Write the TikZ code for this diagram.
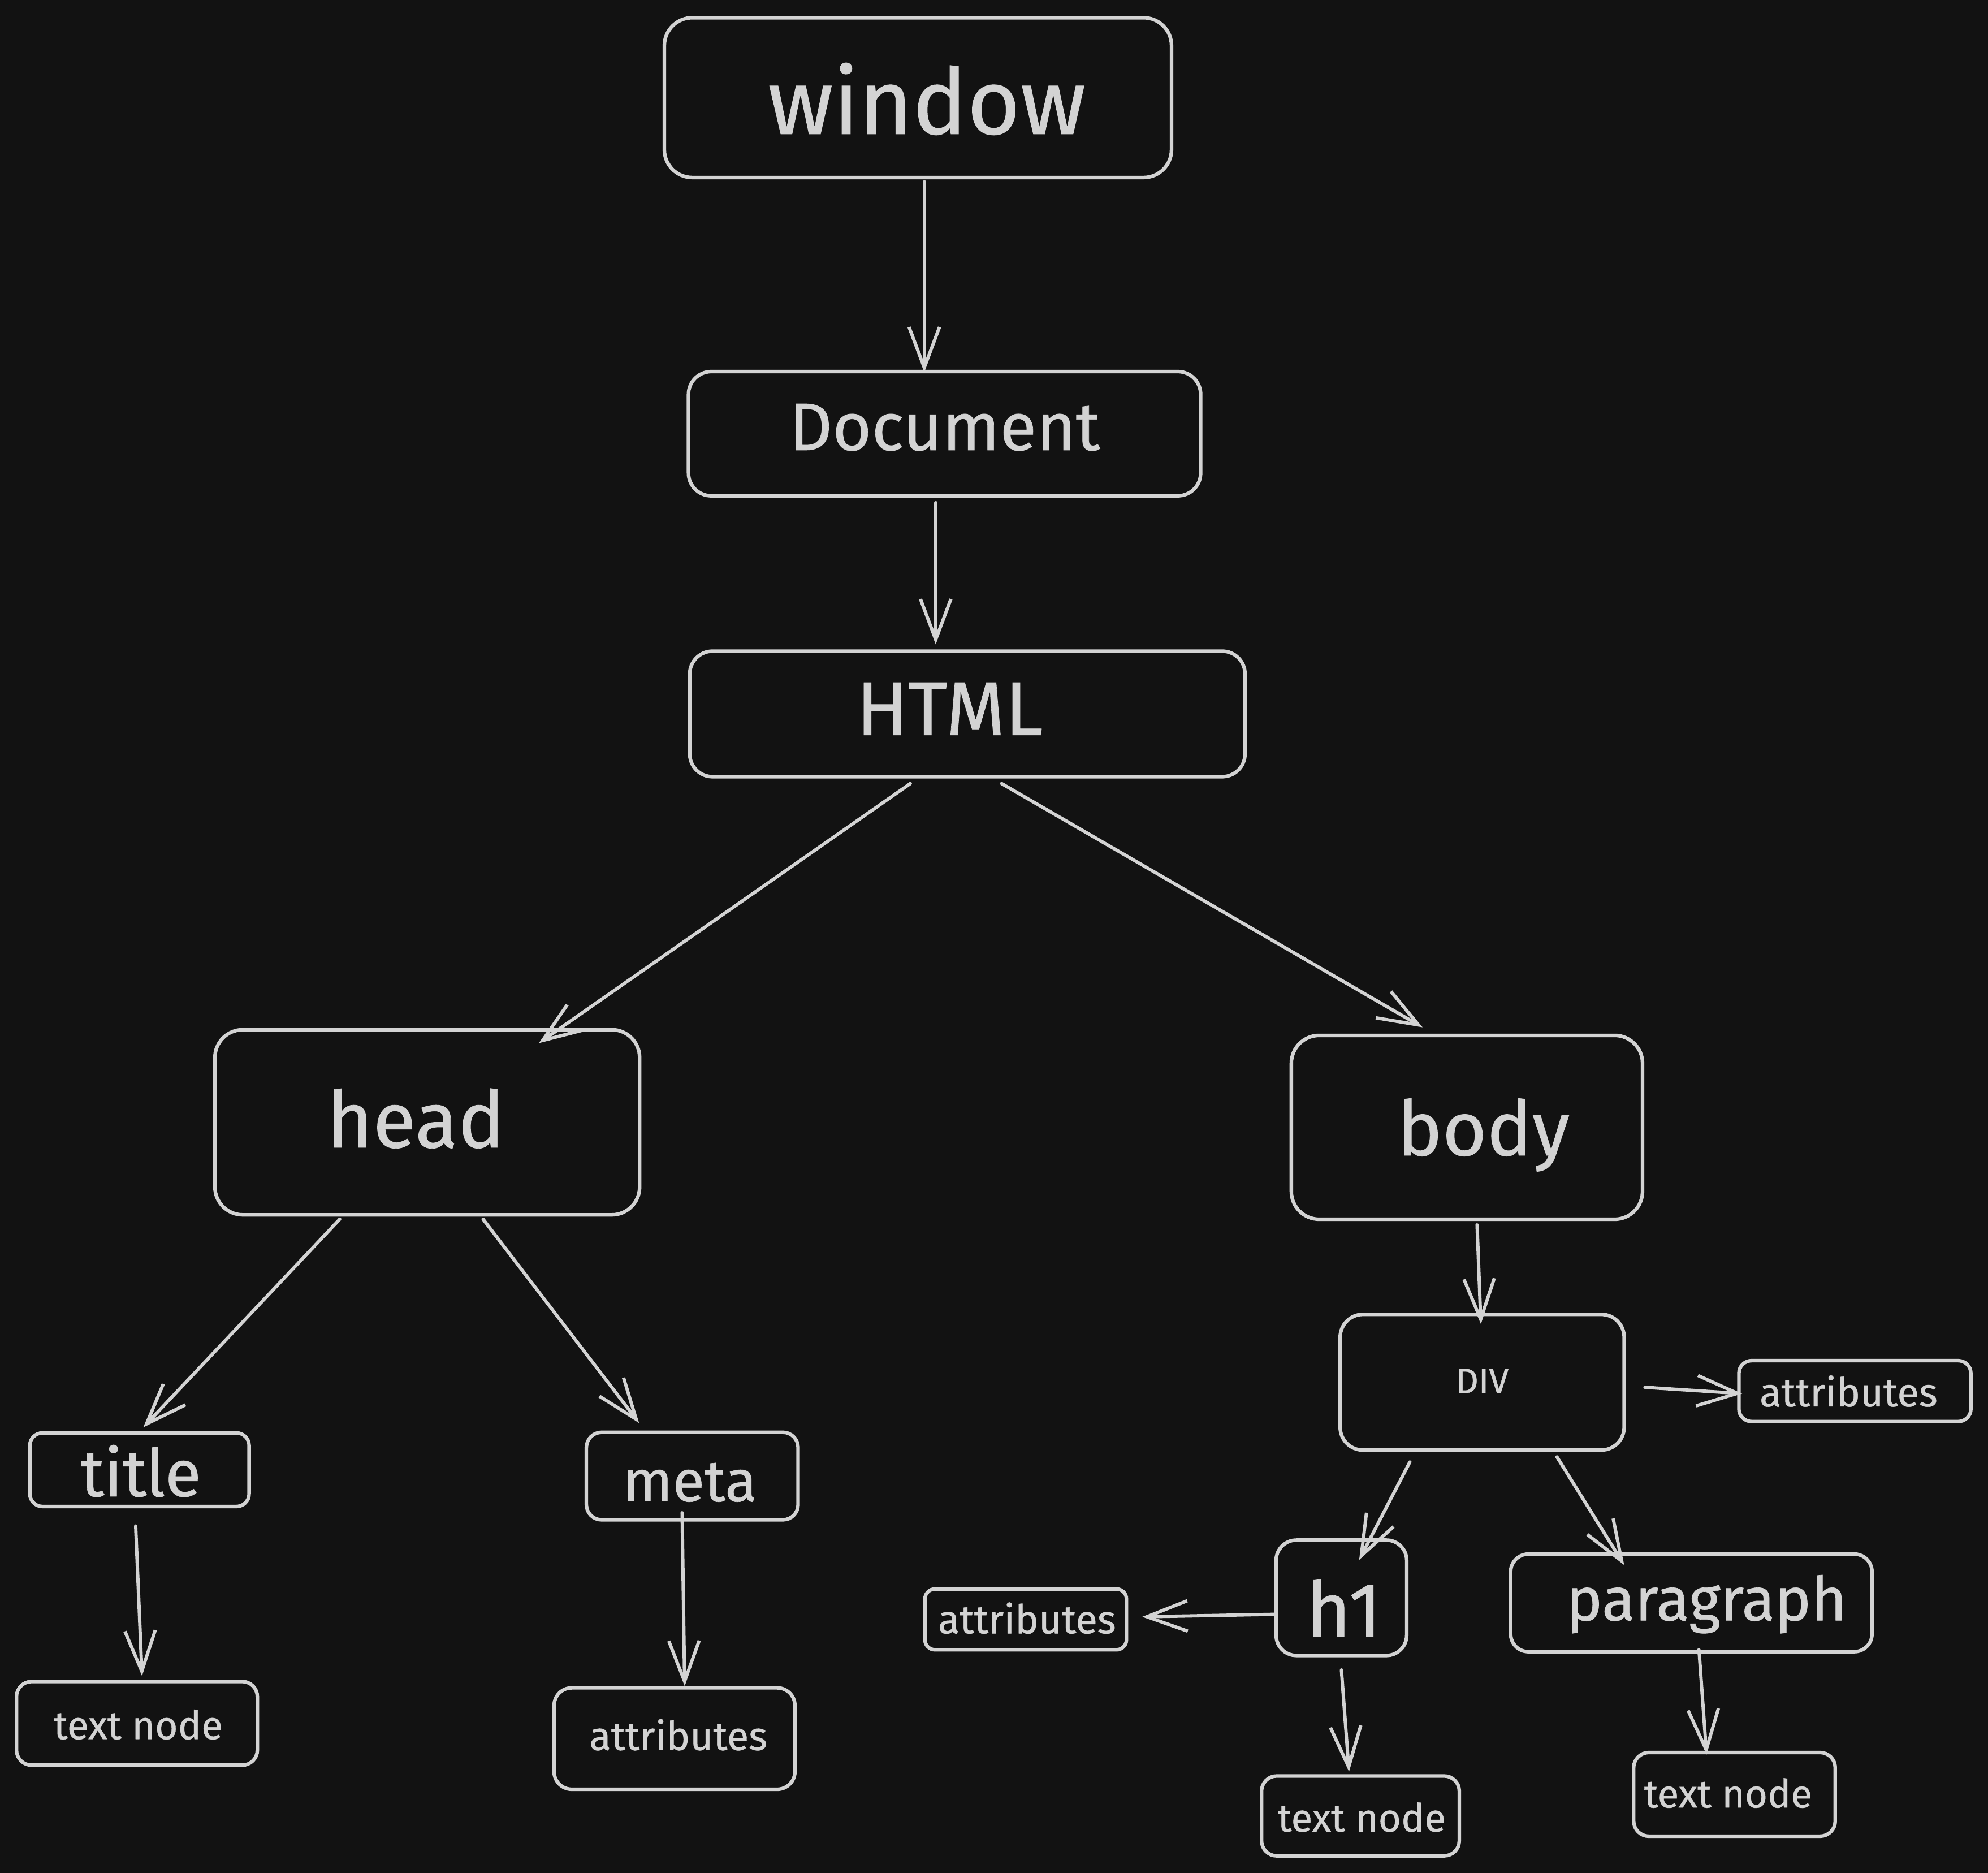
\documentclass[tikz,border=0pt]{standalone}
\usepackage{fontspec}
\setmainfont{Fira Sans}[FakeBold=0.6]
\usetikzlibrary{arrows.meta,calc}
\definecolor{bg}{HTML}{121212}
\definecolor{ink}{HTML}{D3D3D3}
\begin{document}
\begin{tikzpicture}[x=0.5pt,y=-0.5pt,
 box/.style={draw=ink, line width=1.4pt, fill=bg, rounded corners=#1, inner sep=0pt},
 box/.default=7pt,
 txt/.style={text=ink, inner sep=0pt},
 arr/.style={draw=ink, line width=1.3pt, line cap=round, -{Straight Barb[length=16pt,width=12pt]}},
]
\fill[bg] (0,0) rectangle (1568,1477);
\useasboundingbox (0,0) rectangle (1568,1477);

% boxes
\node[box=11pt, minimum width=200pt, minimum height=63pt] (window) at (724,77) {};
\node[box=9pt, minimum width=202pt, minimum height=49pt] (Document) at (745,342) {};
\node[box=9pt, minimum width=219pt, minimum height=49.5pt] (HTML) at (763,563) {};
\node[box=11pt, minimum width=167.5pt, minimum height=73pt] (head) at (337,885) {};
\node[box=11pt, minimum width=138.5pt, minimum height=72.5pt] (body) at (1157,889) {};
\node[box=9pt, minimum width=112pt, minimum height=53.5pt] (DIV) at (1169,1090) {};
\node[box=5pt, minimum width=91.5pt, minimum height=24pt] (attrR) at (1463,1097) {};
\node[box=5pt, minimum width=86.5pt, minimum height=29pt] (title) at (110,1159) {};
\node[box=6pt, minimum width=83.5pt, minimum height=34.5pt] (meta) at (546,1164) {};
\node[box=6pt, minimum width=95pt, minimum height=33pt] (textL) at (108,1359) {};
\node[box=7pt, minimum width=95pt, minimum height=40pt] (attrM) at (532,1371) {};
\node[box=8pt, minimum width=51.5pt, minimum height=45.5pt] (h1) at (1058,1260) {};
\node[box=4pt, minimum width=79.5pt, minimum height=24pt] (attrH) at (809,1277) {};
\node[box=7pt, minimum width=142.5pt, minimum height=38.5pt] (para) at (1334,1264) {};
\node[box=6pt, minimum width=78pt, minimum height=31.5pt] (textH) at (1073,1432) {};
\node[box=6pt, minimum width=79.5pt, minimum height=33pt] (textP) at (1368,1415) {};

% texts
\node[txt, font=\fontsize{36}{40}\selectfont] (window-t) at (731,78) {window};
\node[txt, font=\fontsize{26.5}{30}\selectfont] (Document-t) at (745,337) {Document};
\node[txt, font=\fontsize{30}{34}\selectfont] (HTML-t) at (749,559) {HTML};
\node[txt, font=\fontsize{31}{35}\selectfont] (head-t) at (328,882) {head};
\node[txt, font=\fontsize{30}{34}\selectfont] (body-t) at (1170,895) {body};
\node[txt, font=\fontsize{14}{16}\selectfont] (DIV-t) at (1169,1089) {DIV};
\node[txt, font=\fontsize{15.7}{18}\selectfont] (attrR-t) at (1458,1097) {attributes};
\node[txt, font=\fontsize{26}{30}\selectfont] (title-t) at (111,1160) {title};
\node[txt, font=\fontsize{23}{26}\selectfont] (meta-t) at (544,1169) {meta};
\node[txt, font=\fontsize{15.5}{18}\selectfont] (textL-t) at (109,1360) {text node};
\node[txt, font=\fontsize{15.7}{18}\selectfont] (attrM-t) at (535,1368) {attributes};
\node[txt, font=\fontsize{30}{34}\selectfont] (h1-t) at (1060,1268) {h1};
\node[txt, font=\fontsize{15.7}{18}\selectfont] (attrH-t) at (810,1276) {attributes};
\node[txt, font=\fontsize{24}{28}\selectfont] (para-t) at (1346,1265) {paragraph};
\node[txt, font=\fontsize{15.4}{18}\selectfont] (textH-t) at (1074,1433) {text node};
\node[txt, font=\fontsize{15.4}{18}\selectfont] (textP-t) at (1363,1414) {text node};

% connectors
\draw[arr] ($(window.south)+(5,2)$) -- ($(Document.north)+(-16,2)$);
\draw[arr] ($(Document.south)+(-7,4)$) -- ($(HTML.north)+(-25,-4)$);
\draw[arr] ($(HTML.south)+(-45,4)$) -- ($(head.north)+(88,12)$);
\draw[arr] ($(HTML.south)+(27,4)$) -- ($(body.north)+(-35,-5)$);
\draw[arr] ($(head.south)+(-69,2)$) -- ($(title.north)+(3,-3)$);
\draw[arr] ($(head.south)+(44,2)$) -- ($(meta.north)+(-42,-6)$);
\draw[arr] ($(title.south)+(-3,14)$) -- ($(textL.north)+(4,-3)$);
\draw[arr] ($(meta.south)+(-8,-7)$) -- ($(attrM.north)+(8,0)$);
\draw[arr] ($(body.south)+(8,3)$) -- ($(DIV.north)+(-1,9)$);
\draw[arr] ($(DIV.east)+(15,4)$) -- ($(attrR.west)+(4,2)$);
\draw[arr] ($(DIV.south)+(-57,8)$) -- ($(h1.north)+(14,17)$);
\draw[arr] ($(DIV.south)+(59,4)$) -- ($(para.north)+(-53,10)$);
\draw[arr] ($(h1.west)+(0,13)$) -- ($(attrH.east)+(11,-2)$);
\draw[arr] ($(h1.south)+(0,10)$) -- ($(textH.north)+(-9,-2)$);
\draw[arr] ($(para.south)+(6,-3)$) -- ($(textP.north)+(-22,3)$);
\end{tikzpicture}
\end{document}
